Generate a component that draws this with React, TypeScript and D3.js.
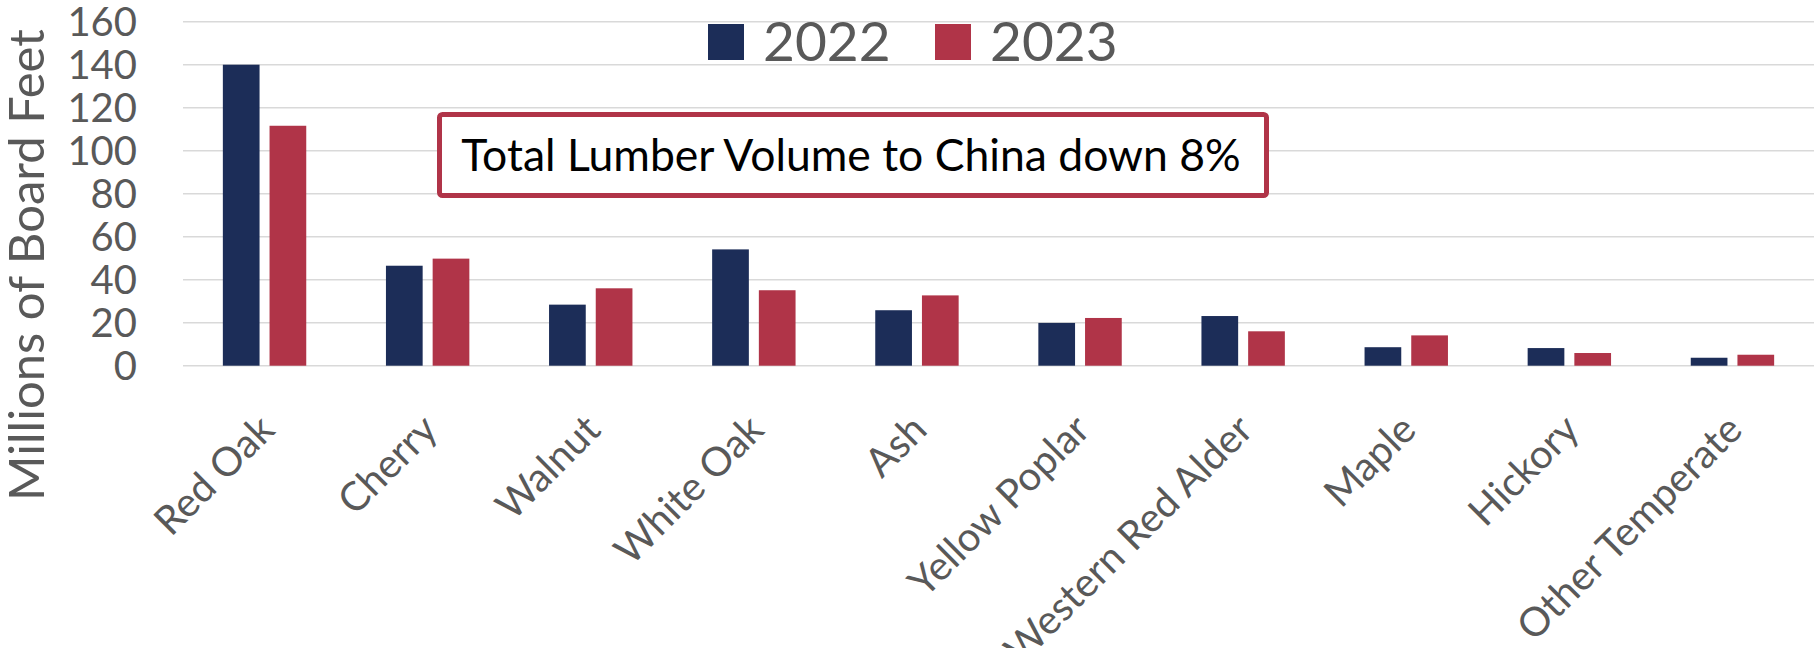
import React from "react";
import * as d3 from "d3";

const categories = [
  "Red Oak",
  "Cherry",
  "Walnut",
  "White Oak",
  "Ash",
  "Yellow Poplar",
  "Western Red Alder",
  "Maple",
  "Hickory",
  "Other Temperate",
];
const seriesNames = ["2022", "2023"];
const values2022 = [140, 46.5, 28.4, 54.1, 25.8, 19.9, 23.1, 8.6, 8.2, 3.7];
const values2023 = [111.6, 49.8, 36, 35.1, 32.7, 22.2, 16, 14.1, 5.9, 5.1];
const yTicks = [0, 20, 40, 60, 80, 100, 120, 140, 160];
const yTitle = "Millions of Board Feet";
const calloutText = "Total Lumber Volume to China down 8%";

const W = 1814;
const H = 648;
const FONT = "Lato, 'Open Sans', sans-serif";
const GREY = "#595959";
const colors = ["#1C2D58", "#B03448"];

export default function App() {
  const left = 183;
  const right = 1814;
  const x0 = d3.scaleBand<string>().domain(categories).range([left, right]).paddingInner(0).paddingOuter(0);
  const bw = x0.bandwidth();
  const groupW = 83.4;
  const x1 = d3
    .scaleBand<string>()
    .domain(seriesNames)
    .range([(bw - groupW) / 2, (bw + groupW) / 2])
    .paddingInner(0.214)
    .paddingOuter(0);
  const y = d3.scaleLinear().domain([0, 160]).range([365.7, 21.7]);
  const seriesValues = [values2022, values2023];

  return (
    <svg
      width={W}
      height={H}
      style={{ position: "absolute", left: 0, top: 0, background: "#fff" }}
      fontFamily={FONT}
    >
      <rect x={0} y={0} width={W} height={H} fill="#fff" />
      {/* gridlines */}
      {yTicks.map((t) => (
        <line key={t} x1={left} x2={right} y1={y(t)} y2={y(t)} stroke="#D9D9D9" strokeWidth={1.6} />
      ))}
      {/* y tick labels */}
      {yTicks.map((t) => (
        <text
          key={"l" + t}
          x={137}
          y={y(t)}
          dy="0.36em"
          textAnchor="end"
          fontSize={40}
          fill={GREY}
        >
          {t}
        </text>
      ))}
      {/* y title */}
      <text
        transform={`translate(44,265) rotate(-90)`}
        textAnchor="middle"
        fontSize={49}
        fill={GREY}
      >
        {yTitle}
      </text>
      {/* bars */}
      {seriesNames.map((s, si) =>
        categories.map((c, ci) => {
          const v = seriesValues[si][ci];
          const bx = (x0(c) as number) + (x1(s) as number);
          return (
            <rect
              key={s + c}
              x={bx}
              y={y(v)}
              width={x1.bandwidth()}
              height={y(0) - y(v)}
              fill={colors[si]}
            />
          );
        })
      )}
      {/* category labels */}
      {categories.map((c) => {
        const cx = (x0(c) as number) + bw / 2;
        return (
          <text
            key={"c" + c}
            transform={`translate(${cx + 12},432) rotate(-45)`}
            textAnchor="end"
            fontSize={40}
            fill={GREY}
          >
            {c}
          </text>
        );
      })}
      {/* legend */}
      {seriesNames.map((s, i) => {
        const lx = i === 0 ? 708 : 935;
        return (
          <g key={"lg" + s}>
            <rect x={lx} y={24} width={36} height={36} fill={colors[i]} />
            <text x={lx + 55} y={61} fontSize={55} fill={GREY}>
              {s}
            </text>
          </g>
        );
      })}
      {/* callout */}
      <rect x={439.5} y={114.5} width={827} height={81} rx={3} fill="#fff" stroke="#B03448" strokeWidth={5} />
      <text x={851} y={171} textAnchor="middle" fontSize={44.5} fill="#000">
        {calloutText}
      </text>
    </svg>
  );
}
